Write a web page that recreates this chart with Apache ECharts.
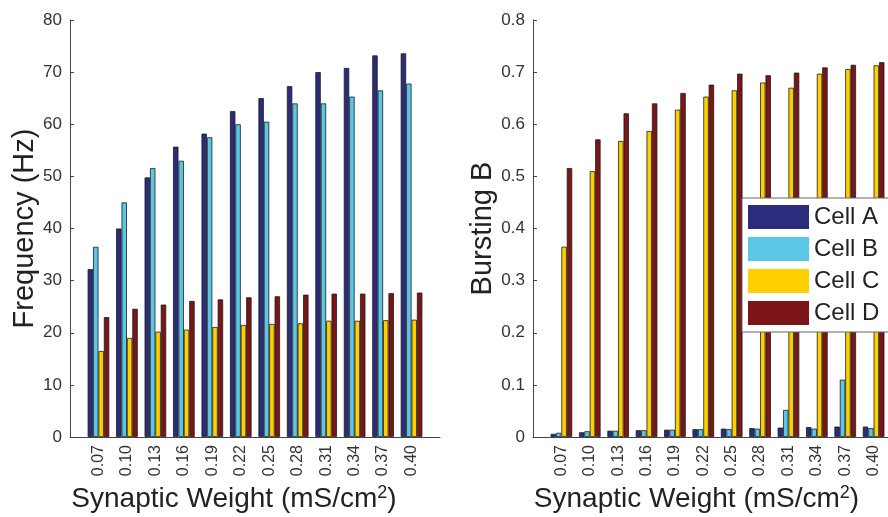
<!DOCTYPE html>
<html>
<head>
<meta charset="utf-8">
<script src="https://cdn.jsdelivr.net/npm/echarts@6/dist/echarts.min.js"></script>
<style>
  html, body { margin: 0; padding: 0; background: #fff; }
  #chart { width: 888px; height: 517px; }
</style>
</head>
<body>
<div id="chart"></div>
<script>
var weights = ['0.07', '0.10', '0.13', '0.16', '0.19', '0.22', '0.25', '0.28', '0.31', '0.34', '0.37', '0.40'];
var cellNames = ['Cell A', 'Cell B', 'Cell C', 'Cell D'];
var cellColors = ['#2b2d7c', '#5cc6e6', '#ffd000', '#7c1517'];

// frequency (Hz)
var freqA = [32.2, 40.0, 49.8, 55.7, 58.2, 62.5, 65.0, 67.3, 70.0, 70.8, 73.2, 73.6];
var freqB = [36.5, 45.0, 51.6, 53.0, 57.5, 60.0, 60.5, 64.0, 64.0, 65.3, 66.5, 67.8];
var freqC = [16.5, 19.0, 20.2, 20.6, 21.1, 21.5, 21.7, 21.8, 22.3, 22.3, 22.4, 22.5];
var freqD = [23.0, 24.6, 25.4, 26.1, 26.4, 26.8, 27.0, 27.3, 27.5, 27.5, 27.6, 27.7];

// bursting B
var burstA = [0.006, 0.009, 0.012, 0.013, 0.014, 0.015, 0.016, 0.017, 0.018, 0.019, 0.020, 0.020];
var burstB = [0.008, 0.011, 0.012, 0.013, 0.014, 0.015, 0.015, 0.016, 0.052, 0.016, 0.110, 0.017];
var burstC = [0.365, 0.510, 0.568, 0.587, 0.628, 0.653, 0.665, 0.680, 0.670, 0.697, 0.706, 0.713];
var burstD = [0.516, 0.571, 0.621, 0.640, 0.660, 0.676, 0.697, 0.694, 0.699, 0.709, 0.714, 0.719];

var freqData = [freqA, freqB, freqC, freqD];
var burstData = [burstA, burstB, burstC, burstD];

var axisColor = '#444';
var font = 'Liberation Sans, Arial, sans-serif';

function xAxisFor(gridIndex) {
  return {
    type: 'value',
    gridIndex: gridIndex,
    min: 0,
    max: 13,
    interval: 1,
    axisLine: { lineStyle: { color: axisColor, width: 1 } },
    axisTick: { show: false },
    splitLine: { show: false },
    axisLabel: {
      rotate: 90,
      fontSize: 16,
      color: '#333',
      fontFamily: font,
      margin: 8,
      formatter: function (v) { return weights[v - 1] || ''; }
    },
    name: 'Synaptic Weight (mS/cm{sup|2})',
    nameLocation: 'middle',
    nameGap: 45,
    nameTextStyle: {
      fontSize: 28,
      color: '#222',
      fontFamily: font,
      padding: [0, 42, 0, 0],
      rich: { sup: { fontSize: 18, padding: [0, 0, 13, 0], color: '#222', fontFamily: font } }
    }
  };
}

function yAxisFor(gridIndex, max, interval, name, gap, decimals) {
  return {
    type: 'value',
    gridIndex: gridIndex,
    min: 0,
    max: max,
    interval: interval,
    axisLine: { show: true, lineStyle: { color: axisColor, width: 1 } },
    axisTick: { show: true, inside: true, length: 4, lineStyle: { color: axisColor } },
    splitLine: { show: false },
    axisLabel: {
      fontSize: 17,
      color: '#333',
      fontFamily: font,
      margin: 8,
      formatter: function (v) { return v === 0 ? '0' : v.toFixed(decimals); }
    },
    name: name,
    nameLocation: 'middle',
    nameGap: gap,
    nameTextStyle: { fontSize: 29, color: '#222', fontFamily: font }
  };
}

function barSeries(gridIndex, values, idx) {
  return {
    type: 'bar',
    name: cellNames[idx],
    xAxisIndex: gridIndex,
    yAxisIndex: gridIndex,
    barWidth: 5.4,
    barGap: '0%',
    itemStyle: { color: cellColors[idx], borderColor: '#1a1a1a', borderWidth: 0.8 },
    data: values.map(function (v, i) { return [i + 1, v]; })
  };
}

var series = [];
freqData.forEach(function (vals, i) { series.push(barSeries(0, vals, i)); });
burstData.forEach(function (vals, i) { series.push(barSeries(1, vals, i)); });

var chart = echarts.init(document.getElementById('chart'));
chart.setOption({
  animation: false,
  backgroundColor: '#fff',
  grid: [
    { left: 70, right: 448, top: 20, bottom: 80, outerBoundsMode: 'none' },
    { left: 533, right: -14, top: 20, bottom: 80, outerBoundsMode: 'none' }
  ],
  xAxis: [xAxisFor(0), xAxisFor(1)],
  yAxis: [
    yAxisFor(0, 80, 10, 'Frequency (Hz)', 30, 0),
    yAxisFor(1, 0.8, 0.1, 'Bursting B', 31, 1)
  ],
  legend: {
    data: cellNames,
    orient: 'vertical',
    left: 742,
    top: 198,
    padding: [7, 30, 7, 6],
    itemWidth: 61,
    itemHeight: 24,
    itemGap: 8,
    icon: 'rect',
    backgroundColor: '#fff',
    borderColor: '#666',
    borderWidth: 1,
    itemStyle: { borderWidth: 0 },
    textStyle: { fontSize: 24, color: '#222', fontFamily: font }
  },
  series: series
});
</script>
</body>
</html>
